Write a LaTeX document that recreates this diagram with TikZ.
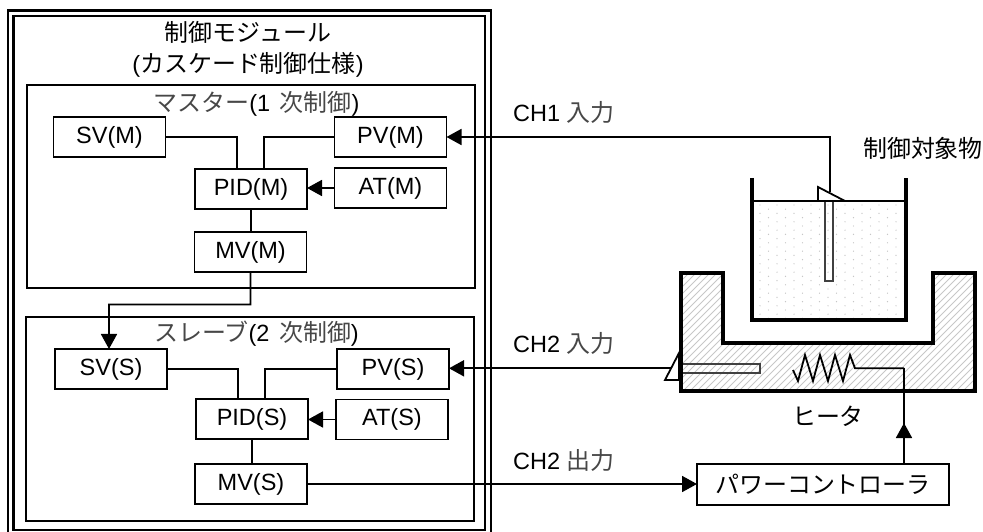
\documentclass[tikz,border=0pt]{standalone}
\usepackage{fontspec}
\setmainfont{Liberation Sans}
\newfontfamily\jpf[Scale=1.02]{Noto Sans CJK JP}
\usetikzlibrary{arrows.meta,calc}
\newcommand\jt[1]{{\jpf #1}}
\newcommand\jg[1]{{\jpf\color{black!72}#1}}
\tikzset{
  fnt/.style={font=\fontsize{23.5bp}{31bp}\selectfont,text=black},
  bx/.style={draw=black,line width=1.8bp,fill=white,minimum width=112bp,minimum height=40bp,inner sep=0pt,outer sep=0pt,fnt},
  bxb/.style={bx,line width=2.3bp},
  lbl/.style={inner sep=0pt,fnt,align=center},
  wire/.style={draw=black,line width=1.8bp},
  arr/.style={wire,-{Triangle[length=15bp,width=16bp]}},
  frame/.style={draw=black,line width=1.8bp},
  wall/.style={draw=black,line width=4bp,line join=miter},
  sensor/.style={draw=black,line width=1.8bp,fill=white,line join=miter},
}
\begin{document}
\begin{tikzpicture}[x=1bp,y=-1bp]
\useasboundingbox (0,0) rectangle (983,532);
% outer frames
\draw[frame,line width=2.2bp] (8,10.5) rectangle (491,534);
\draw[frame,line width=2.2bp] (13.5,16) rectangle (485,530);
\node[lbl] (title) at (248,49) {\jt{制御モジュール}\\(\jt{カスケード制御仕様})};
% master / slave groups
\draw[frame] (27,85) rectangle (475,288);
\draw[frame] (26,317) rectangle (474,521);
\node[lbl] (tm) at (256.5,103.5) {\jg{マスター}(1\hspace{3bp} \jg{次制御})};
\node[lbl] (ts) at (256.5,334) {\jg{スレーブ}(2\hspace{3bp} \jg{次制御})};
% plant: heater block
\begin{scope}
\clip (681,273) -- (723,273) -- (723,343) -- (933,343) -- (933,273) -- (975,273) -- (975,391) -- (681,391) -- cycle;
\foreach \i in {0,...,70} {
  \draw[black!22,line width=.8bp] ({560+\i*7},395) -- ++(125,-125);
}
\end{scope}
\draw[wall] (681,273) -- (723,273) -- (723,343) -- (933,343) -- (933,273) -- (975,273) -- (975,391) -- (681,391) -- cycle;
% beaker
\begin{scope}
\clip (752,201) rectangle (906,320);
\foreach \r in {0,...,27} {
  \foreach \c in {0,...,9} {
    \pgfmathsetmacro\xx{int(mod(\r,2))*8.5+\c*17+760}
    \fill[black!22] (\xx,{205+\r*4.2}) circle (.7bp);
  }
}
\end{scope}
\draw[wall] (752,178) -- (752,320) -- (906,320) -- (906,178);
\draw[draw=black,line width=2.2bp] (752,201) -- (906,201);
% probes
\draw[draw=black!75,line width=1.6bp] (825,201) -- (825,281) -- (833,281) -- (833,201);
\coordinate (s1) at (830,192);
\draw[sensor] (818,201) -- (818,187) -- (845,201) -- cycle;
\draw[draw=black!75,line width=1.6bp] (683,364) -- (760,364) -- (760,373) -- (683,373);
\coordinate (s2) at (672,368.3);
\draw[sensor] (665,380) -- (679,353) -- (679,380) -- cycle;
% heater element
\coordinate (h1) at (855,368.3);
\coordinate (h2) at (904,368.3);
\draw[wire,line join=miter] (793,370) -- (798,381) -- (805,355) -- (813,381) -- (820,355) -- (828,381) -- (835,355) -- (843,381) -- (850,355) -- (h1) -- (h2);
% blocks
\node[bx]  (svm)  at (109.5,137) {SV(M)};
\node[bx]  (pvm)  at (390.5,137) {PV(M)};
\node[bxb] (pidm) at (251,189)   {PID(M)};
\node[bx]  (atm)  at (390.5,188) {AT(M)};
\node[bx]  (mvm)  at (250.5,252) {MV(M)};
\node[bx]  (svs)  at (111,369)   {SV(S)};
\node[bx]  (pvs)  at (393,369)   {PV(S)};
\node[bx]  (pids) at (252,419)   {PID(S)};
\node[bx]  (ats)  at (392,419.5) {AT(S)};
\node[bx]  (mvs)  at (251,484)   {MV(S)};
\node[bx,minimum width=252bp,minimum height=41bp] (pc) at (823,484.5) {\jt{パワーコントローラ}};
% connectors
\draw[wire] (svm.east) -| ([xshift=-14bp]pidm.north);
\draw[wire] (pvm.west) -| ([xshift=13bp]pidm.north);
\draw[arr] (atm.west) -- (atm.west -| pidm.east);
\draw[wire] (pidm.south) -- (pidm.south |- mvm.north);
\draw[arr] (mvm.south) |- (109,304.5) -- ([xshift=-2bp]svs.north);
\draw[wire] (svs.east) -| ([xshift=-14bp]pids.north);
\draw[wire] (pvs.west) -| ([xshift=13bp]pids.north);
\draw[arr] (ats.west) -- (ats.west -| pids.east);
\draw[wire] (pids.south) -- (pids.south |- mvs.north);
\draw[arr] (s1) |- (pvm.east);
\draw[arr] (s2) -- (s2 -| pvs.east);
\draw[arr] (mvs.east) -- (mvs.east -| pc.west);
\draw[wire] (pc.north -| h2) -- (h2);
\draw[arr] (pc.north -| h2) -- (904,423);
% labels
\node[lbl,anchor=west] (l1) at (513,112) {CH1 \jg{入力}};
\node[lbl,anchor=west] (l2) at (513,343.5) {CH2 \jg{入力}};
\node[lbl,anchor=west] (l3) at (513,460) {CH2 \jg{出力}};
\node[lbl] (obj) at (923,148) {\jt{制御対象物}};
\node[lbl] (ht) at (828,416) {\jt{ヒータ}};
\end{tikzpicture}
\end{document}
